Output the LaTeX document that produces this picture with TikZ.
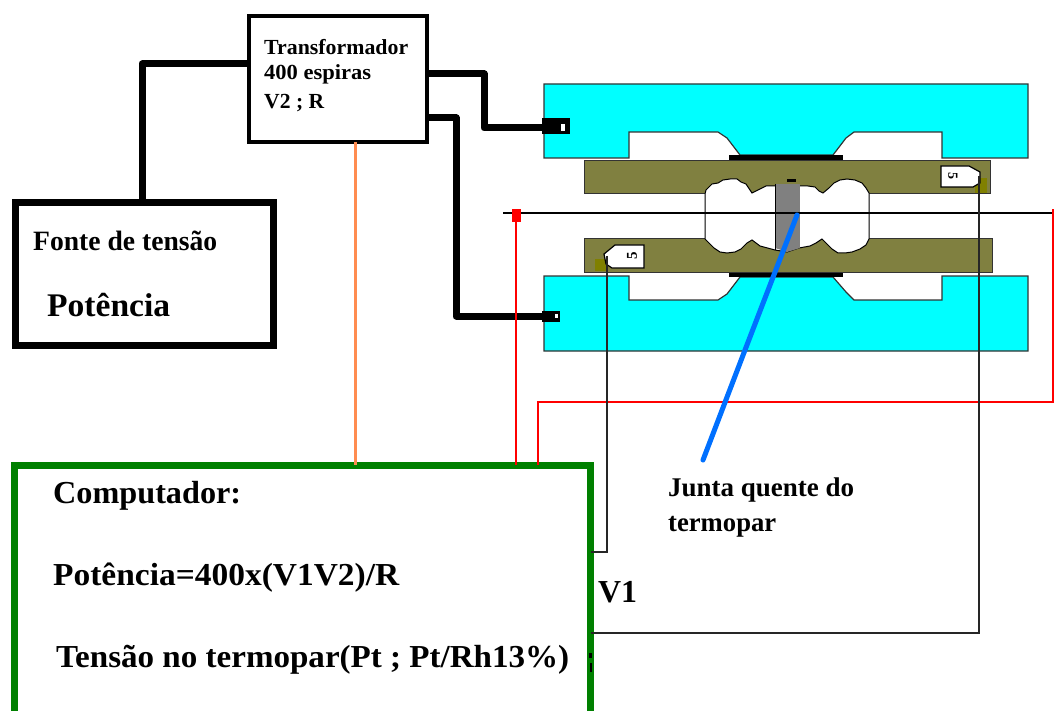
\documentclass[tikz,border=0pt]{standalone}
\usepackage{fontspec}
\setmainfont{Liberation Serif}
\definecolor{cy}{RGB}{0,255,255}
\definecolor{ol}{RGB}{128,128,64}
\definecolor{dol}{RGB}{128,128,0}
\definecolor{grn}{RGB}{0,128,0}
\definecolor{org}{RGB}{255,140,80}
\definecolor{blu}{RGB}{0,112,255}
\definecolor{gry}{RGB}{128,128,128}
\newcommand{\fit}[3]{\resizebox{#1pt}{\height}{\fontsize{#2}{#2}\bfseries\selectfont #3}}
\tikzset{
 x=1pt,y=-1pt,
 lbl/.style={anchor=west,inner sep=0pt,text=black},
 boxn/.style={fill=white,inner sep=0pt,outer sep=0pt},
 wire/.style={draw=black,line width=7pt,line join=round},
 thin wire/.style={draw=black!85,line width=1.4pt},
 redw/.style={draw=red,line width=1.3pt},
 plate/.style={fill=cy,draw=black!80,line width=1.2pt},
 olive plate/.style={fill=ol,draw=black!80,line width=1pt},
 pad/.style={fill=black,draw=none},
 tag/.style={fill=white,draw=black,line width=1.2pt},
}
\begin{document}
\begin{tikzpicture}
\useasboundingbox (0,0) rectangle (1054,711);
\clip (0,0) rectangle (1054,711);
% plates
\draw[plate] (544,84)--(1028,84)--(1028,158)--(942,158)--(942,132)--(854,132)--(846,138)--(833,155)--(740,155)--(727,138)--(718,132)--(629,132)--(629,158)--(544,158)--cycle;
\draw[plate] (544,276)--(629,276)--(629,300)--(718,300)--(727,294)--(740,277)--(833,277)--(846,292)--(854,300)--(942,300)--(942,276)--(1028,276)--(1028,351)--(544,351)--cycle;
\fill[pad] (729,155) rectangle (843,161);
\fill[pad] (729,272) rectangle (843,277);
\filldraw[olive plate] (584,161) rectangle (990,194);
\filldraw[olive plate] (584,239) rectangle (992,272);
% central cavity
\filldraw[fill=white,draw=black,line width=1pt] (705,194)--(706,190)--(712,184)--(718,183)--(723,180)--(730,179)--(737,179)--(741,182)--(746,184)--(752,193)--(756,191)--(760,189)--(766,186)--(775,186)--(799,186)--(808,186)--(815,187)--(819,191)--(823,193)--(829,188)--(834,183)--(840,180)--(847,179)--(855,180)--(862,183)--(866,188)--(869,193)--(869,239)--(866,245)--(860,249)--(852,252)--(845,253)--(838,253)--(832,249)--(822,239)--(816,243)--(810,246)--(799,248)--(787,252)--(775,250)--(760,246)--(752,240)--(747,243)--(741,249)--(735,252)--(727,253)--(720,252)--(714,248)--(705,239)--cycle;
\fill[gry] (775,184) rectangle (800,248);
\fill[gry] (775,248)--(787,252)--(800,248)--cycle;
\draw[black,line width=1pt] (775,184)--(775,250);
\fill[pad] (787,179) rectangle (796,182);
% darker olive spots
\fill[dol] (975,178) rectangle (987,193);
\fill[dol] (595,259) rectangle (608,271);
% tags
\draw[tag] (941,166)--(969,166)--(980,172)--(980,183)--(973,187)--(941,187)--cycle;
\draw[tag] (644,245)--(615,245)--(604,254)--(606,264)--(612,268)--(644,268)--cycle;
\node[inner sep=0pt,rotate=-90] (tagR) at (953,176) {\fontsize{14}{14}\bfseries\selectfont 5};
\node[inner sep=0pt,rotate=90] (tagL) at (632,256) {\fontsize{15}{15}\bfseries\selectfont 5};
% terminals
\fill[pad] (542,118) rectangle (570,134);
\fill[white] (561,124) rectangle (565,131);
\fill[pad] (542,311) rectangle (560,322);
\fill[white] (555,314) rectangle (558,318);
% boxes
\node[boxn,draw=black,line width=3.5pt,minimum width=178pt,minimum height=126pt] (trans) at (338,79) {};
\node[boxn,draw=black,line width=7pt,minimum width=258pt,minimum height=143pt] (fonte) at (144.5,274) {};
\node[boxn,draw=grn,line width=7pt,minimum width=576pt,minimum height=300pt,anchor=north west] (comp) at (14.5,465) {};
% named ends
\coordinate (t1) at (555,128);
\coordinate (t2) at (555,316);
\coordinate (rs1) at (516,215);
\coordinate (rs2) at (1053,215);
\coordinate (hl) at (503,213);
\coordinate (hr) at (1054,213);
\coordinate (bj) at (797,215);
\coordinate (bm) at (745,350);
\coordinate (be) at (703,460);
% thick wires
\draw[wire] (fonte.north -| 142,0) -- (142,64) -- (trans.west |- 0,64);
\draw[wire] (trans.east |- 0,74) -- (484,74) -- (484,128) -- (t1);
\draw[wire] (trans.east |- 0,118) -- (456,118) -- (456,316) -- (t2);
\draw[org,line width=3pt] (trans.south -| 355,0) -- (comp.north -| 355,0);
% thin lines
\draw[black,line width=1.4pt] (hl) -- (hr);
\fill[red] (512,209) rectangle (521,222);
\fill[red] (1052,209) rectangle (1054,222);
\draw[redw] (rs1) -- (comp.north -| 516,0);
\draw[redw] (comp.north -| 538,0) -- (538,402) -- (1053,402) -- (rs2);
\draw[thin wire] (607,256) -- (607,552) -- (comp.east |- 0,552);
\draw[thin wire] (979,176) -- (979,633) -- (comp.east |- 0,633);
% ticks on green edge
\fill[black] (589,653) rectangle (592,658);
\fill[black] (590,663) rectangle (592,672);
% blue
\draw[blu,line width=5pt,line cap=round] (bj) -- (bm) -- (be);
% texts
\node[lbl] (l1) at (264,47) {\fit{144}{21.5}{Transformador}};
\node[lbl] (l2) at (264,74) {\fit{107}{21.5}{400 espiras}};
\node[lbl] (l3) at (264,103) {\fit{60}{21.5}{V2 ; R}};
\node[lbl] (l4) at (33,241) {\fit{184}{28}{Fonte de tensão}};
\node[lbl] (l5) at (47,305) {\fit{123}{33}{Potência}};
\node[lbl] (l6) at (53,496) {\fit{188}{32}{Computador:}};
\node[lbl] (l7) at (53,578) {\fit{346}{32}{Potência=400x(V1V2)/R}};
\node[lbl] (l8) at (56,660) {\fit{513}{32}{Tensão no termopar(Pt ; Pt/Rh13\%)}};
\node[lbl] (l9) at (598,592) {\fit{39}{32}{V1}};
\node[lbl] (l10) at (668,490) {\fit{186}{27}{Junta quente do}};
\node[lbl] (l11) at (668,527) {\fit{108}{27}{termopar}};
\end{tikzpicture}
\end{document}
